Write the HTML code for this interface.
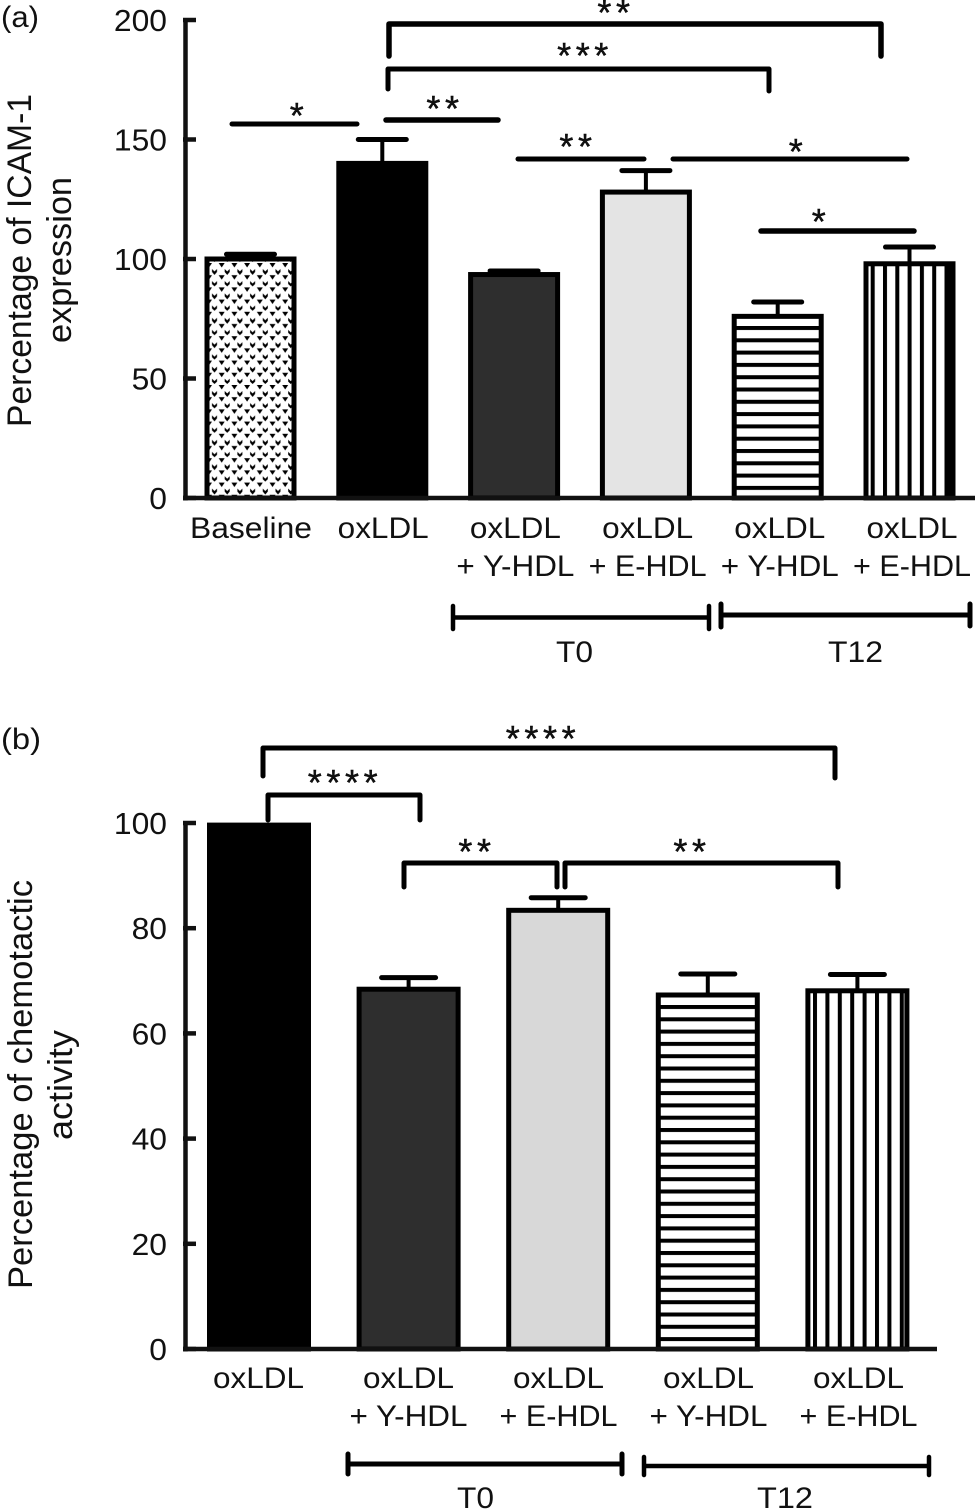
<!DOCTYPE html>
<html lang="en">
<head>
<meta charset="utf-8">
<title>ICAM-1 expression and chemotactic activity</title>
<style>
html,body{margin:0;padding:0;background:#fff;}
svg{display:block;}
text{font-family:"Liberation Sans",sans-serif;fill:#111;}
</style>
</head>
<body>
<svg id="fig" xmlns="http://www.w3.org/2000/svg" width="978" height="1511" viewBox="0 0 978 1511">
<defs>
<pattern id="dots" patternUnits="userSpaceOnUse" x="205" y="262" width="12.7" height="24.4">
<polygon points="1,1 7,1 4,5.5" fill="#000"/>
<polygon points="7,7 9.5,9.5 12,7 12,10 9.5,13 7,10" fill="#000"/>
<polygon points="1,13.2 7,13.2 4,17.7" fill="#000"/>
<polygon points="7,19 9.5,21.5 12,19 12,22 9.5,24.4 7,22" fill="#000"/>
</pattern>
<pattern id="hstripe-a" patternUnits="userSpaceOnUse" x="0" y="326" width="12.3" height="12.3"><rect x="0" y="0" width="12.3" height="4" fill="#000"/></pattern>
<pattern id="vstripe-a" patternUnits="userSpaceOnUse" x="870.7" y="0" width="12.3" height="12.3"><rect x="0" y="0" width="4" height="12.3" fill="#000"/></pattern>
<pattern id="hstripe-b" patternUnits="userSpaceOnUse" x="0" y="1005" width="12.3" height="12.3"><rect x="0" y="0" width="12.3" height="4" fill="#000"/></pattern>
<pattern id="vstripe-b" patternUnits="userSpaceOnUse" x="813" y="0" width="12.4" height="12.4"><rect x="0" y="0" width="4" height="12.4" fill="#000"/></pattern>
</defs>

<text x="1" y="27" font-size="30" textLength="38" lengthAdjust="spacingAndGlyphs">(a)</text>
<text x="1" y="749" font-size="30" textLength="40" lengthAdjust="spacingAndGlyphs">(b)</text>

<text transform="translate(31 427) rotate(-90)" font-size="34" textLength="333" lengthAdjust="spacingAndGlyphs">Percentage of ICAM-1</text>
<text transform="translate(71 343) rotate(-90)" font-size="34" textLength="166" lengthAdjust="spacingAndGlyphs">expression</text>
<text transform="translate(32 1289) rotate(-90)" font-size="34" textLength="409" lengthAdjust="spacingAndGlyphs">Percentage of chemotactic</text>
<text transform="translate(72 1140) rotate(-90)" font-size="34" textLength="110" lengthAdjust="spacingAndGlyphs">activity</text>

<g id="plot-a"></g>
<g id="plot-b"></g>

<g fill="none" stroke="#000" stroke-linecap="round" stroke-linejoin="round">
<path d="M389 56V24H881V56" stroke-width="5.5"/>
<path d="M388 89V69H769V91" stroke-width="5"/>
<path d="M232 124H357" stroke-width="5"/>
<path d="M386 120H498" stroke-width="5.5"/>
<path d="M518 159H644" stroke-width="5"/>
<path d="M673 159H907" stroke-width="5"/>
<path d="M761 231H914" stroke-width="5.5"/>
</g>
<g fill="none" stroke="#000" stroke-linecap="round" stroke-linejoin="round">
<path d="M263 776V748H835V778" stroke-width="5"/>
<path d="M268 820V795H420V820" stroke-width="5"/>
<path d="M404 887V863H557V887" stroke-width="5"/>
<path d="M565 887V863H838V887" stroke-width="5"/>
</g>

<g font-size="36" text-anchor="middle" letter-spacing="4.6" style="stroke:#000;stroke-width:0.4">
<text x="616" y="25">**</text>
<text x="585" y="68">***</text>
<text x="299" y="128">*</text>
<text x="445" y="121">**</text>
<text x="578" y="159">**</text>
<text x="798" y="164">*</text>
<text x="821" y="234">*</text>
<text x="543" y="751">****</text>
<text x="345" y="795">****</text>
<text x="477" y="864">**</text>
<text x="692" y="864">**</text>
</g>

<g fill="none" stroke="#000" stroke-linecap="round">
<path d="M453 606V629M453 617.5H709M709 606V629" stroke-width="4.5"/>
<path d="M721 604V627M721 615H970M970 604V626" stroke-width="5"/>
</g>
<text x="556" y="662" font-size="30" textLength="37" lengthAdjust="spacingAndGlyphs">T0</text>
<text x="828" y="662" font-size="30" textLength="55" lengthAdjust="spacingAndGlyphs">T12</text>

<g fill="none" stroke="#000" stroke-linecap="round">
<path d="M348 1454V1474M348 1464H622M622 1454V1474" stroke-width="5"/>
<path d="M644 1457V1475M644 1466H929M929 1457V1475" stroke-width="4.5"/>
</g>
<text x="457" y="1508" font-size="30" textLength="37" lengthAdjust="spacingAndGlyphs">T0</text>
<text x="757" y="1508" font-size="30" textLength="56" lengthAdjust="spacingAndGlyphs">T12</text>
</svg>

<script>
var categoriesA = ['Baseline', 'oxLDL', 'oxLDL + Y-HDL', 'oxLDL + E-HDL', 'oxLDL + Y-HDL', 'oxLDL + E-HDL'];
var valuesA = [100, 140, 93.5, 128, 76, 98];
var errorsA = [2, 10, 1.5, 9, 6, 7];
var ticksA = [0, 50, 100, 150, 200];
var categoriesB = ['oxLDL', 'oxLDL + Y-HDL', 'oxLDL + E-HDL', 'oxLDL + Y-HDL', 'oxLDL + E-HDL'];
var valuesB = [99.6, 68.4, 83.4, 67.3, 68.1];
var errorsB = [0, 2.2, 2.4, 4, 3.1];
var ticksB = [0, 20, 40, 60, 80, 100];

var SVGNS = 'http://www.w3.org/2000/svg';

function make(tag, attrs, parent) {
  var node = document.createElementNS(SVGNS, tag);
  for (var k in attrs) node.setAttribute(k, attrs[k]);
  parent.appendChild(node);
  return node;
}

function drawPanel(cfg) {
  var g = document.getElementById(cfg.id);
  function yScale(v) { return cfg.y0 + (cfg.y1 - cfg.y0) * (v - cfg.vMin) / (cfg.vMax - cfg.vMin); }
  function xLeft(i) { return cfg.left + i * cfg.step; }
  var tLo = yScale(cfg.vMax), tHi = yScale(cfg.vMin);

  cfg.values.forEach(function (v, i) {
    var x = xLeft(i), y = yScale(v), w = cfg.width;
    var e = cfg.errors[i];
    if (e > 0) {
      var ey = yScale(v + e), cx = x + w / 2;
      var stem = make('path', {d: 'M' + cx + ' ' + ey + 'V' + y, stroke: '#000', 'stroke-width': 4, fill: 'none'}, g);
      
      
      var cap = make('path', {d: 'M' + (cx - cfg.capHalf) + ' ' + ey + 'H' + (cx + cfg.capHalf), stroke: '#000', 'stroke-width': 5, 'stroke-linecap': 'round', fill: 'none'}, g);
      
      
    }
    var bar = make('rect', {
      x: x + 2.5, y: y, width: w - 5, height: Math.max(0, cfg.y0 - y),
      fill: cfg.fills[i], stroke: '#000', 'stroke-width': 5
    }, g);
    
    
    if (cfg.thickRight === i) {
      var edge = make('rect', {x: x + w - 11, y: y, width: 11, height: Math.max(0, cfg.y0 - y), fill: '#000'}, g);
      
      
    }
  });

  var yAxis = make('path', {d: 'M185.5 ' + (tLo - 2) + 'V' + (tHi + 2.5), stroke: '#111', 'stroke-width': 4.5, fill: 'none'}, g);
  
  
  var xAxis = make('path', {d: 'M183 ' + cfg.y0 + 'H' + cfg.axisEnd, stroke: '#111', 'stroke-width': 4.5, fill: 'none'}, g);
  
  

  cfg.ticks.forEach(function (t) {
    var ty = yScale(t);
    var tick = make('path', {d: 'M183 ' + ty + 'H196', stroke: '#111', 'stroke-width': 4.5, fill: 'none'}, g);
    
    
    var s = String(t);
    var label = make('text', {
      x: 167 - s.length * 17.7, y: ty + 11, 'font-size': 31,
      textLength: s.length * 17.7, lengthAdjust: 'spacingAndGlyphs'
    }, g);
    label.textContent = s;
    
    
  });

  cfg.categories.forEach(function (c, i) {
    var cx = cfg.labelLeft + i * cfg.labelStep;
    var lines = c.indexOf(' + ') > 0 ? [c.split(' + ')[0], '+ ' + c.split(' + ')[1]] : [c];
    lines.forEach(function (line, j) {
      var len = line === 'Baseline' ? 122 : (j === 0 ? 91 : 118);
      var t = make('text', {
        x: cx - len / 2, y: cfg.labelY + j * 38, 'font-size': 30,
        textLength: len, lengthAdjust: 'spacingAndGlyphs'
      }, g);
      t.textContent = line;
      
      
    });
  });
}

drawPanel({
  id: 'plot-a', values: valuesA, errors: errorsA, ticks: ticksA, categories: categoriesA,
  y0: 498, y1: 20, vMin: 0, vMax: 200, left: 204.5, step: 131.8, width: 92, capHalf: 24,
  axisEnd: 975, labelLeft: 251, labelStep: 132.2, labelY: 538, thickRight: 5,
  fills: ['url(#dots)', '#000', '#2e2e2e', '#e4e4e4', 'url(#hstripe-a)', 'url(#vstripe-a)']
});
drawPanel({
  id: 'plot-b', values: valuesB, errors: errorsB, ticks: ticksB, categories: categoriesB,
  y0: 1349, y1: 823, vMin: 0, vMax: 100, left: 207, step: 149.6, width: 104, capHalf: 27,
  axisEnd: 937, labelLeft: 258.5, labelStep: 150, labelY: 1388, thickRight: -1,
  fills: ['#000', '#2e2e2e', '#d8d8d8', 'url(#hstripe-b)', 'url(#vstripe-b)']
});
</script>
</body>
</html>
